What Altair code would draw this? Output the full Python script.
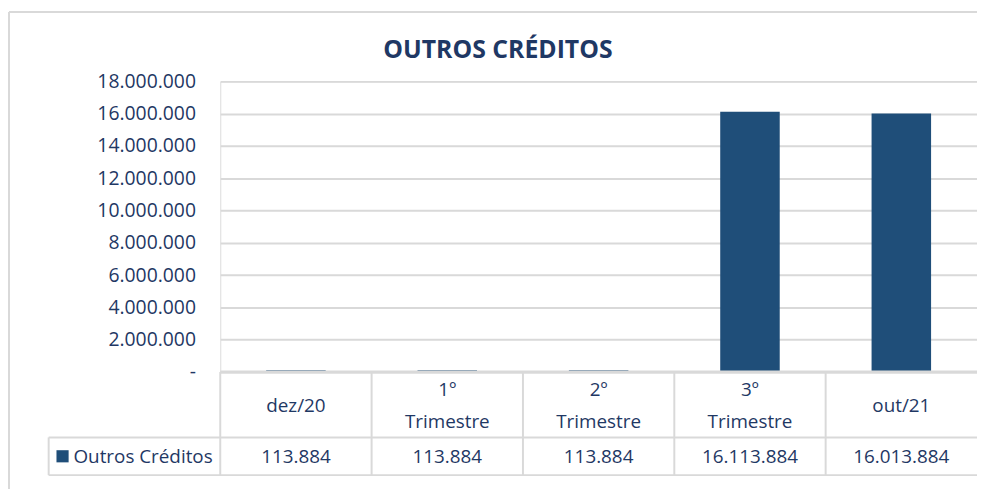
import altair as alt
import pandas as pd

TITLE = "OUTROS CRÉDITOS"
SERIES = "Outros Créditos"
categories = ["dez/20", "1º Trimestre", "2º Trimestre", "3º Trimestre", "out/21"]
values = [113884, 113884, 113884, 16113884, 16013884]
y_ticks = [0, 2000000, 4000000, 6000000, 8000000, 10000000, 12000000, 14000000, 16000000, 18000000]

NAVY = "#1F3864"
BAR = "#1F4E79"
GRID = "#D9D9D9"
FONT = "Open Sans"
FS = 19

df = pd.DataFrame({"cat": categories, "value": values})
legend_df = pd.DataFrame({"series": [SERIES]})
title_df = pd.DataFrame({"title": [TITLE]})
frame_df = pd.DataFrame({"k": [0]})

xscale = alt.Scale(paddingInner=0, paddingOuter=0)
x_enc = alt.X("cat:N", sort=categories, scale=xscale, axis=None)

base = alt.Chart(df)

bars = base.mark_bar(size=60, color=BAR).encode(
    x=x_enc,
    y=alt.Y("value:Q",
            scale=alt.Scale(domain=[0, 18000000], nice=False, zero=True),
            axis=alt.Axis(values=y_ticks, title=None, grid=True, gridColor=GRID,
                          gridWidth=2, domain=False, ticks=False, labelPadding=25,
                          format=",.0f",
                          labelExpr="datum.value == 0 ? '-\u00a0\u00a0' : datum.label",
                          labelFont=FONT, labelFontSize=19.5, labelColor=NAVY)),
)

# table grid lines
vlines = base.mark_rule(color=GRID, strokeWidth=2).encode(
    x=alt.X("cat:N", sort=categories, bandPosition=0, scale=xscale, axis=None),
    y=alt.value(293), y2=alt.value(397),
)
frame = alt.Chart(frame_df)
hline_top = frame.mark_rule(color=GRID, strokeWidth=3).encode(
    x=alt.value(0), x2=alt.value(763), y=alt.value(293))
hline_mid = frame.mark_rule(color=GRID, strokeWidth=2).encode(
    x=alt.value(-173), x2=alt.value(763), y=alt.value(359))
hline_bot = frame.mark_rule(color=GRID, strokeWidth=2).encode(
    x=alt.value(-173), x2=alt.value(763), y=alt.value(397))
vline_leg = frame.mark_rule(color=GRID, strokeWidth=2).encode(
    x=alt.value(-173), y=alt.value(359), y2=alt.value(397))
border_top = frame.mark_rule(color=GRID, strokeWidth=2).encode(
    x=alt.value(-213), x2=alt.value(763), y=alt.value(-70))
border_left = frame.mark_rule(color=GRID, strokeWidth=2).encode(
    x=alt.value(-213), y=alt.value(-70), y2=alt.value(420))

# header cells: one or two lines, block centred in the header row
header = base.transform_calculate(
    lines="split(datum.cat, ' ')",
    ypix="327 - (length(split(datum.cat, ' ')) - 1) * 16",
).mark_text(
    font=FONT, fontSize=FS, color=NAVY, align="center", baseline="middle",
    lineHeight=32).encode(
    x=x_enc, y=alt.Y("ypix:Q", scale=None, axis=None), text="lines:N")

vals = base.mark_text(font=FONT, fontSize=FS, color=NAVY, align="center",
                      baseline="middle").encode(
    x=x_enc, y=alt.value(379), text=alt.Text("value:Q", format=",.0f"))

leg_sq = alt.Chart(legend_df).mark_square(size=150, color=BAR, opacity=1).encode(
    x=alt.value(-159), y=alt.value(378))
leg_txt = alt.Chart(legend_df).mark_text(font=FONT, fontSize=FS, color=NAVY,
                                         align="left", baseline="middle").encode(
    x=alt.value(-148), y=alt.value(379), text="series:N")

title = alt.Chart(title_df).mark_text(font=FONT, fontSize=25, fontWeight="bold",
                                      color=NAVY, align="center",
                                      baseline="alphabetic").encode(
    x=alt.value(280), y=alt.value(-24), text="title:N")

chart = alt.layer(
    bars, vlines, hline_top, hline_mid, hline_bot, vline_leg, border_top, border_left,
    header, vals, leg_sq, leg_txt, title
).properties(
    width=763, height=293,
    padding={"left": 214, "top": 72, "right": 0, "bottom": 116},
    autosize=alt.AutoSizeParams(type="none"),
).configure_view(stroke=None).configure(
    locale={"number": {"decimal": ",", "thousands": ".", "grouping": [3],
                       "currency": ["R$", ""]}}
)

chart.save("out.html", embed_options={"renderer": "svg", "actions": False})
